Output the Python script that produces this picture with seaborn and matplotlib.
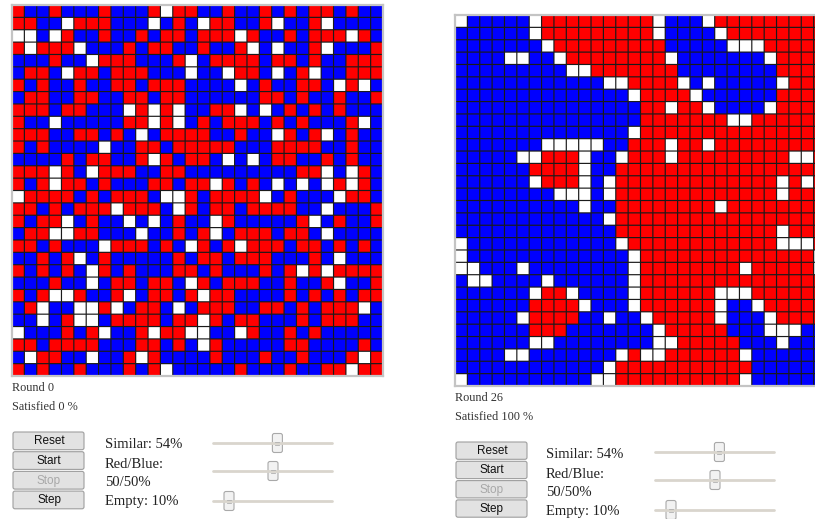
import numpy as np
import pandas as pd
import seaborn as sns
import matplotlib.pyplot as plt
from matplotlib.colors import ListedColormap
from matplotlib.patches import FancyBboxPatch

# B = blue agent, R = red agent, W = empty cell
grid_round0 = [
    "RBBRBBBRBBBRWRR" + "BBRBBRBRBRRBRBB",
    "RRBBWRRRBBBWBRB" + "WRRBBRWBBRWBBBB",
    "WWBWRBBRBBRBRRB" + "RRRWRBBRBRRRWRB",
    "RWRRRWBBBRBRRBB" + "RBBRWBWBBRWBBBR",
    "BBBRBBWRRRBBBRW" + "BRRRRBRRBRBBRRR",
    "BRRBWRRBRRRBBBW" + "BBWRRBWBRWBBRRR",
    "RBRBBRBBRRBRRRB" + "BBBWBRBBRRBWRWB",
    "BRRBBRRBBRRBRRB" + "BBBBBRRBRBBRBBR",
    "RRRBRRBBBWRWRWB" + "BRRWBWBRBRBRBBB",
    "RBBWBBBBBRRWRWB" + "RBRRRBRBRBBBRWB",
    "RRRBBRRBRBWBRRR" + "RBBRBBWRBRWBRBB",
    "RBRBBBBWBBRRBRR" + "RRRBBBRRRRBBRBB",
    "BBBBRBRRBBRWRBR" + "RBWBWBRRBBRBRBB",
    "RRRWRBWRRRBBRRB" + "BBBBBBBBRRWBWRB",
    "RBRWRRBRBBBRRBR" + "RWRBRBWBWBWRWRB",
    "WRRRRBRBRRRBWWR" + "BRRRRWBRBBBWRRB",
    "RRBRBRRRWRRRBWR" + "BRRBRRRRBBWBBBR",
    "RBRRWBRBBWBWBRB" + "BWRBBBBBRWBRBBR",
    "BRRWWRRBBBWBBRB" + "RWBRRRBRRBWBBBB",
    "RRBRBBBWRRRBRBW" + "RBRWRRRBRRBRBRB",
    "BBRBRWBRBBBBBRB" + "RRBRRRBBBRBWBBB",
    "RBRBRBWRBRBBBRR" + "BRBBBRBRWRWRRRR",
    "BBBRBBWBRRBRRBW" + "RBRRRBBRBBRWBBR",
    "RBRWWRBBRWBRRBR" + "WRRBBBBRBRBRBRR",
    "BRWBBWWRWBRRBWB" + "RRRBBRRBRBRRRWB",
    "BBWBRWWBRRRRBRR" + "WRBRRBBBRBRRRBB",
    "WBBBRBRWBBRWRRW" + "WBBWRBBRBRBBBBB",
    "RRBRRRRBBBRRBRB" + "WRBBBBBRRBBBBRB",
    "BWRRBBWBBRWRBBB" + "BRBBBRBBRBBBRWR",
    "RBRBBRBBBRBRWBB" + "BBBRBBBRBBRRWRR",
]

grid_round26 = [
    "WBBBBBWRRRRRRRRRWBBBWRRRRRRRRR",
    "BBBBBBWRRRRRRRRRWBBBBWRRRRRRRR",
    "BBBBBBBWRRRRRRRRRBBBBBWWWRRRRR",
    "BBBBWWBBWRRRRRRRRWBBBBBBBWRRRR",
    "BBBBBBBBBWWRRRRRRRBBBBBBBBRRRR",
    "BBBBBBBBBBBBWWRRRRWBWBBBBBWRRR",
    "BBBBBBBBBBBBBBWRRRRWBBBBBBRRRR",
    "BBBBBBBBBBBBBBBRRWRRWBBBBWRRRR",
    "BBBBBBBBBBBBBBBRRRRRRRWWRRRRRR",
    "BBBBBBBBBBBBBBWRRRRRRRRRRRRRRR",
    "BBBBBBBWWWWWBBRRRWRRWRRRRRRRRR",
    "BBBBBWWRRRWBBWRRRWRRRRRRRRRWWR",
    "BBBBBBRRRRWBBRRRRRRRRRRRRRRRRR",
    "BBBBBBWRRRWBWRRRRRRRRRRRRRWRWR",
    "BBBBBBBBWWWBWRRRRRRRRRRRRRWRRR",
    "BBBBBBBBBBWBBRRRRRRRRWRRRRRRRR",
    "BBBBBBBBBBBBWRRRRRRRRRRRRRRRRR",
    "BBBBBBBBBBBBBRRRRRRRRRRRRRWRRR",
    "WBBBBBBBBBBBBWRRRRRRRRRRRRWWWR",
    "WBBBBBBBBBBBBBWRRRRRRRRRRRRRRW",
    "WWBBBWBBBBBBBBWRRRRRRRRWRRRRRW",
    "BWWBBBBWBBBBBBWRRRRRRRRRRRRRRR",
    "BBBBBBWRRWBBBBWRRRRRRWWWRRRRRR",
    "BBBBBBRRRRWBBBWRRRRRRWBBWRRRRR",
    "BBBBBWRRRRBBWBBWRRRRRWBBBWRRRR",
    "BBBBBBRRRBBBBBBBWRRRRRBBBWWWBB",
    "BBBBBBWWBBBBBBBBWWRRRRRBBBWBBB",
    "BBBBWWBBBBBBBWRWWRRRRRRWBBBBBB",
    "BBBBBBBBBBBBWRRRRRRRRRRRBBBBBB",
    "WBBBBBBBBBBWWRRRRRRRRRRWBBBBBB",
]

round_labels = ["Round 0", "Round 26"]
satisfied_labels = ["Satisfied 0 %", "Satisfied 100 %"]
button_labels = ["Reset", "Start", "Stop", "Step"]
label_lines = ["Similar: 54%", "Red/Blue:", "50/50%", "Empty: 10%"]
slider_values = [0.54, 0.50, 0.10]

codes = {"B": 0, "R": 1, "W": 2}
cell_cmap = ListedColormap(["#0000ff", "#ff0000", "#ffffff"])

W, H = 815, 519


def to_frame(rows):
    for r in rows:
        assert len(r) == 30, (r, len(r))
    return pd.DataFrame([[codes[c] for c in r] for r in rows])


def draw_grid(fig, rows, x0, y0, size=371):
    ax = fig.add_axes([x0 / W, 1 - (y0 + size) / H, size / W, size / H])
    sns.heatmap(
        to_frame(rows),
        cmap=cell_cmap,
        vmin=-0.5,
        vmax=2.5,
        cbar=False,
        linewidths=0,
        xticklabels=False,
        yticklabels=False,
        ax=ax,
    )
    # cell borders, drawn unsnapped so every line gets the same weight
    n = len(rows)
    for k in range(1, n):
        ax.axhline(k, color="#1a1a1a", lw=0.85, snap=False)
        ax.axvline(k, color="#1a1a1a", lw=0.85, snap=False)
    for s in ax.spines.values():
        s.set_visible(True)
        s.set_color("#c4c4c4")
        s.set_linewidth(1.6)
    return ax


def draw_controls(ax, idx, x0, y_round, y_btn, btn_h, lbl_x, slider_x, slider_ys, label_ys):
    serif = "Liberation Serif"
    ax.text(x0, y_round, round_labels[idx], fontsize=8.8,
            family=serif, color="#333333", va="center")
    ax.text(x0, y_round + 19, satisfied_labels[idx], fontsize=8.8,
            family=serif, color="#333333", va="center")
    for i, name in enumerate(button_labels):
        y = y_btn + i * btn_h
        ax.add_patch(FancyBboxPatch((x0 + 1, y + 1), 71, btn_h - 2,
                                    boxstyle="round,pad=0,rounding_size=2",
                                    facecolor="#e2e2e2", edgecolor="#9e9e9e", lw=0.8))
        ax.text(x0 + 37, y + btn_h / 2 + 0.5, name, fontsize=8.5, family="Liberation Sans",
                color="#a8a8a8" if name == "Stop" else "#111111",
                ha="center", va="center")
    for lbl, ly in zip(label_lines, label_ys):
        ax.text(lbl_x, ly, lbl, fontsize=10.5, family=serif, color="#222222",
                va="center")
    for val, sy in zip(slider_values, slider_ys):
        ax.plot([slider_x, slider_x + 119], [sy, sy], color="#d9d5cd", lw=2,
                solid_capstyle="round")
        tx = slider_x + 5 + val * 110
        ax.add_patch(FancyBboxPatch((tx - 5, sy - 9.5), 10, 19,
                                    boxstyle="round,pad=0,rounding_size=2",
                                    facecolor="#f2f2f2", edgecolor="#a9a9a9", lw=0.8))
        ax.plot([tx - 2, tx + 2], [sy - 1.5, sy - 1.5], color="#b0b0b0", lw=0.6)
        ax.plot([tx - 2, tx + 2], [sy + 1.5, sy + 1.5], color="#b0b0b0", lw=0.6)


def main():
    fig = plt.figure(figsize=(W / 100, H / 100), dpi=100)
    fig.patch.set_facecolor("white")

    panel = fig.add_axes([0, 0, 1, 1])
    panel.set_xlim(0, W)
    panel.set_ylim(H, 0)
    panel.set_axis_off()

    draw_grid(fig, grid_round0, 12, 5)
    draw_grid(fig, grid_round26, 455, 15)

    draw_controls(panel, 0, 12, 388, 431, 19.7, 105, 213,
                  [443, 471, 501], [444, 464, 482, 502])
    draw_controls(panel, 1, 455, 398, 441, 19.3, 546, 655,
                  [452, 480, 510], [454, 475, 492, 511])

    fig.savefig("out.png", dpi=100)
    plt.close(fig)


if __name__ == "__main__":
    main()
